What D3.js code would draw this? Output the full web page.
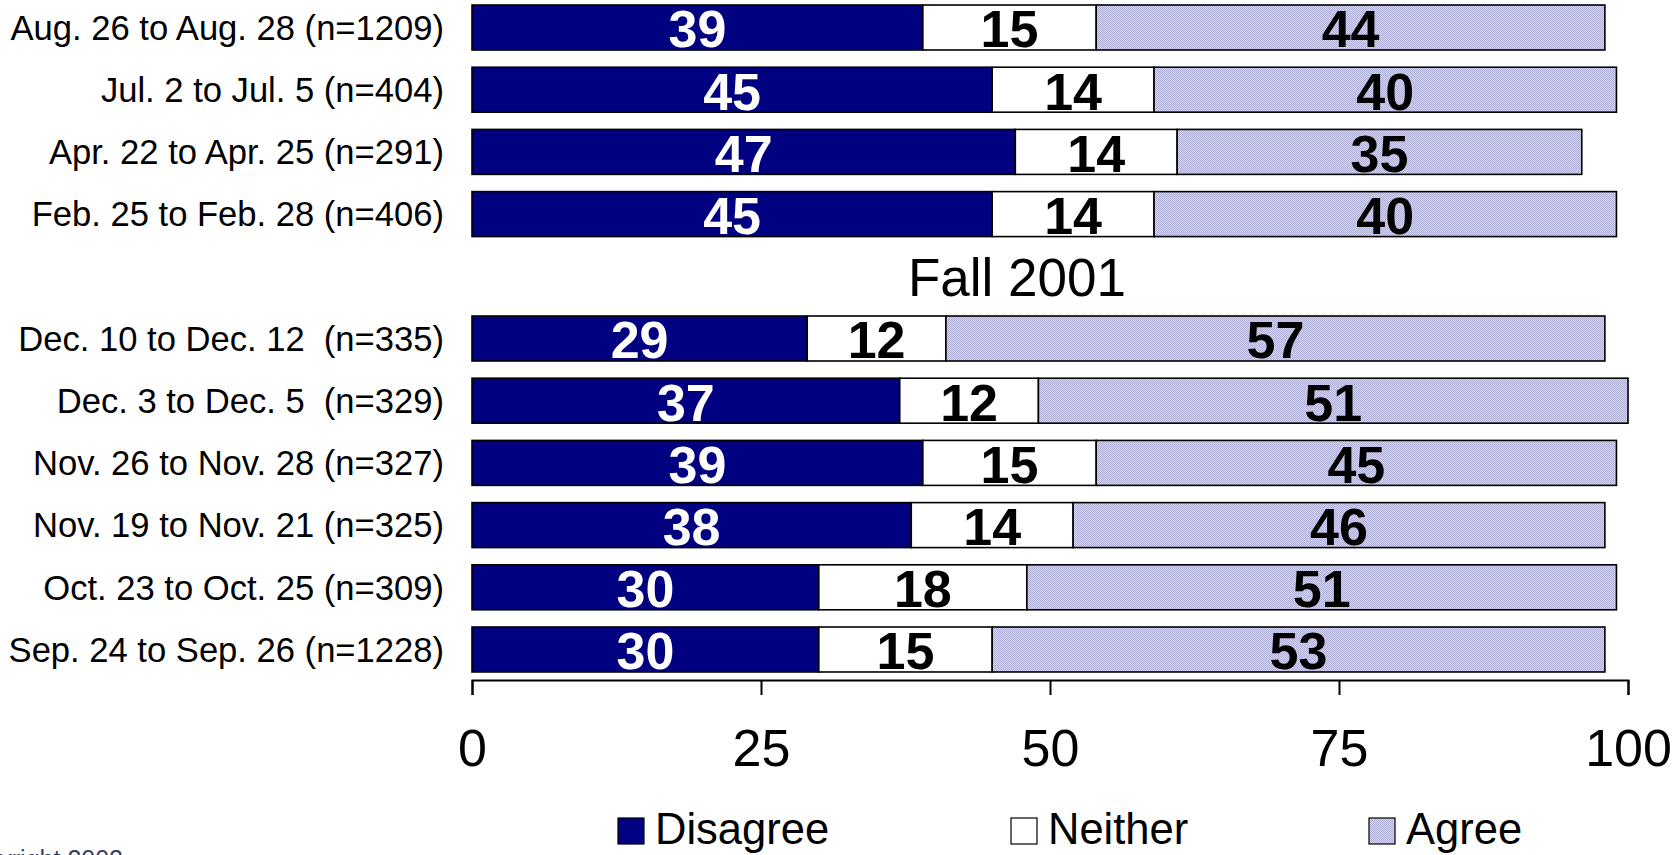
<!DOCTYPE html>
<html>
<head>
<meta charset="utf-8">
<script src="https://cdn.jsdelivr.net/npm/d3@7"></script>
<style>
  html, body { margin: 0; padding: 0; background: #fff; overflow: hidden; }
  svg { display: block; }
  text { font-family: "Liberation Sans", Arial, sans-serif; }
</style>
</head>
<body>
<svg id="chart" width="1676" height="855"></svg>
<script>
// ---- Data ----
const categories = [
  "Aug. 26 to Aug. 28 (n=1209)",
  "Jul. 2 to Jul. 5 (n=404)",
  "Apr. 22 to Apr. 25 (n=291)",
  "Feb. 25 to Feb. 28 (n=406)",
  "Dec. 10 to Dec. 12  (n=335)",
  "Dec. 3 to Dec. 5  (n=329)",
  "Nov. 26 to Nov. 28 (n=327)",
  "Nov. 19 to Nov. 21 (n=325)",
  "Oct. 23 to Oct. 25 (n=309)",
  "Sep. 24 to Sep. 26 (n=1228)"
];
const disagree = [39, 45, 47, 45, 29, 37, 39, 38, 30, 30];
const neither  = [15, 14, 14, 14, 12, 12, 15, 14, 18, 15];
const agree    = [44, 40, 35, 40, 57, 51, 45, 46, 51, 53];
const seriesNames = ["Disagree", "Neither", "Agree"];
const tickValues = [0, 25, 50, 75, 100];
const groupLabel = "Fall 2001";
const groupAfter = 4; // group label sits in the slot after the first 4 rows
const footnote = "Copyright 2002";

// ---- Layout ----
const svg = d3.select("#chart");
const GAP = "__gap__";
const slots = [...categories.slice(0, groupAfter), GAP, ...categories.slice(groupAfter)];

const x = d3.scaleLinear().domain([0, 100]).range([472, 1628]);
const y = d3.scaleBand().domain(slots).range([-3.6, 680.6]).paddingInner(0.277).paddingOuter(0.1385);

const colors = ["#000080", "#ffffff", "url(#agreeFill)"];
const labelColors = ["#ffffff", "#000000", "#000000"];

// hatch pattern for Agree
const defs = svg.append("defs");
const pat = defs.append("pattern")
  .attr("id", "agreeFill").attr("width", 2).attr("height", 2)
  .attr("patternUnits", "userSpaceOnUse");
pat.append("rect").attr("width", 2).attr("height", 2).attr("fill", "#d2d2ee");
pat.append("rect").attr("width", 1).attr("height", 1).attr("fill", "#b2b2d8");
pat.append("rect").attr("x", 1).attr("y", 1).attr("width", 1).attr("height", 1).attr("fill", "#b2b2d8");

// build stacked rows
const rows = categories.map((c, i) => ({
  cat: c,
  vals: [disagree[i], neither[i], agree[i]]
}));

const segs = [];
rows.forEach(r => {
  let acc = 0;
  r.vals.forEach((v, k) => {
    segs.push({ cat: r.cat, k, v, x0: acc, x1: acc + v });
    acc += v;
  });
});

const g = svg.append("g");

g.selectAll("rect.seg").data(segs).join("rect")
  .attr("class", "seg")
  .attr("x", d => x(d.x0))
  .attr("y", d => y(d.cat))
  .attr("width", d => x(d.x1) - x(d.x0))
  .attr("height", y.bandwidth())
  .attr("fill", d => colors[d.k])
  .attr("stroke", "#000")
  .attr("stroke-width", 1.6);

const valSize = 52;
g.selectAll("text.val").data(segs).join("text")
  .attr("class", "val")
  .attr("x", d => x((d.x0 + d.x1) / 2))
  .attr("y", d => y(d.cat) + y.bandwidth() / 2 + 19.8)
  .attr("text-anchor", "middle")
  .attr("font-size", valSize)
  .attr("font-weight", "bold")
  .attr("fill", d => labelColors[d.k])
  .text(d => d.v);

// category labels
const catSize = 34.6;
g.selectAll("text.cat").data(categories).join("text")
  .attr("class", "cat")
  .attr("x", 444)
  .attr("y", d => y(d) + y.bandwidth() / 2 + catSize * 0.716 / 2)
  .attr("text-anchor", "end")
  .attr("font-size", catSize)
  .attr("fill", "#000")
  .style("white-space", "pre")
  .attr("xml:space", "preserve")
  .text(d => d);

// group label
g.append("text")
  .attr("x", 1017)
  .attr("y", y(GAP) + y.bandwidth() / 2 + 20)
  .attr("text-anchor", "middle")
  .attr("font-size", 53)
  .attr("fill", "#000")
  .text(groupLabel);

// x axis
const axis = d3.axisBottom(x).tickValues(tickValues).tickSize(15).tickSizeOuter(15).tickPadding(0);
const ax = svg.append("g").attr("transform", "translate(0,680)").call(axis);
ax.select(".domain").attr("stroke", "#000").attr("stroke-width", 2);
ax.selectAll(".tick line").attr("stroke", "#000").attr("stroke-width", 2);
ax.selectAll(".tick text")
  .attr("y", 86).attr("dy", 0)
  .attr("font-size", 52)
  .attr("font-family", "'Liberation Sans', Arial, sans-serif")
  .attr("fill", "#000");

// legend
const legX = [618, 1011, 1369];
const leg = svg.append("g");
seriesNames.forEach((name, k) => {
  leg.append("rect")
    .attr("x", legX[k]).attr("y", 818)
    .attr("width", 26).attr("height", 26)
    .attr("fill", colors[k])
    .attr("stroke", "#000").attr("stroke-width", 1.2);
  leg.append("text")
    .attr("x", legX[k] + 37).attr("y", 844)
    .attr("font-size", 43.5)
    .attr("fill", "#000")
    .text(name);
});

// partially visible footnote
svg.append("text")
  .attr("x", 123).attr("y", 868)
  .attr("text-anchor", "end")
  .attr("font-size", 25)
  .attr("fill", "#3c3c5c")
  .text(footnote);
</script>
</body>
</html>
